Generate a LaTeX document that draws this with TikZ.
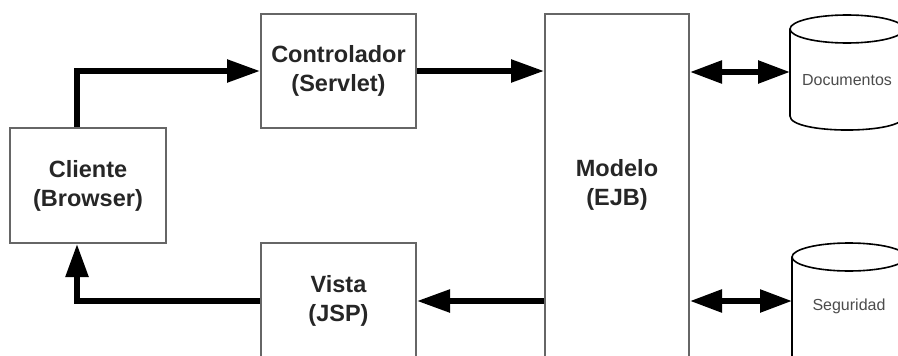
\documentclass[tikz,border=0pt]{standalone}
\usepackage{fontspec}
\setmainfont{Liberation Sans}
\usetikzlibrary{arrows.meta}
\begin{document}
\begin{tikzpicture}[x=1pt,y=-1pt,
  box/.style={draw=black!60, line width=2pt, fill=white, inner sep=0pt, align=center,
    font=\fontsize{23.5}{29}\selectfont\bfseries, text=black!85},
  boxtext/.style={inner sep=0pt, align=center,
    font=\fontsize{23.5}{29}\selectfont\bfseries, text=black!85},
  flow/.style={line width=5.5pt, -{Triangle[length=33pt,width=22pt]}},
  biflow/.style={line width=5.5pt, {Triangle[length=32pt,width=22pt]}-{Triangle[length=32pt,width=22pt]}},
  cyl/.style={draw=black, line width=1.6pt, fill=white},
  cyltext/.style={font=\fontsize{16}{19}\selectfont, text=black!70, inner sep=0pt}]
\useasboundingbox (0,0) rectangle (898,356);
\clip (0,0) rectangle (898,356);
\fill[white] (0,0) rectangle (898,356);

% boxes
\node[box, minimum width=156pt, minimum height=115pt] (cliente) at (88,185.5) {Cliente\\(Browser)};
\node[box, minimum width=155pt, minimum height=114pt] (ctrl) at (338.5,71) {Controlador\\(Servlet)};
\node[box, minimum width=155pt, minimum height=116pt] (vista) at (338.5,301) {Vista\\(JSP)};
\node[box, minimum width=144pt, minimum height=348pt] (modelo) at (617,188) {};
\node[boxtext] (modeloT) at (617,185) {Modelo\\(EJB)};

% cylinders
\draw[cyl] (790,29) -- (790,116) .. controls (790,134.7) and (904,134.7) .. (904,116) -- (904,29);
\draw[cyl] (847,29) ellipse [x radius=57, y radius=14];
\node[cyltext] (doc) at (847,80) {Documentos};
\coordinate (docL) at (790,72);

\draw[cyl] (792,257) -- (792,380) -- (906,380) -- (906,257);
\draw[cyl] (849,257) ellipse [x radius=57, y radius=14];
\node[cyltext] (seg) at (849,306) {Seguridad};
\coordinate (segL) at (792,301);

% connectors
\draw[flow] ([xshift=-11pt]cliente.north) |- (ctrl.west);
\draw[flow] (ctrl.east) -- (ctrl.east -| modelo.west);
\draw[flow] (vista.east -| modelo.west) -- (vista.east);
\draw[flow] (vista.west) -| ([xshift=-11pt]cliente.south);
\draw[biflow] (docL -| modelo.east) -- (docL);
\draw[biflow] (segL -| modelo.east) -- (segL);
\end{tikzpicture}
\end{document}
